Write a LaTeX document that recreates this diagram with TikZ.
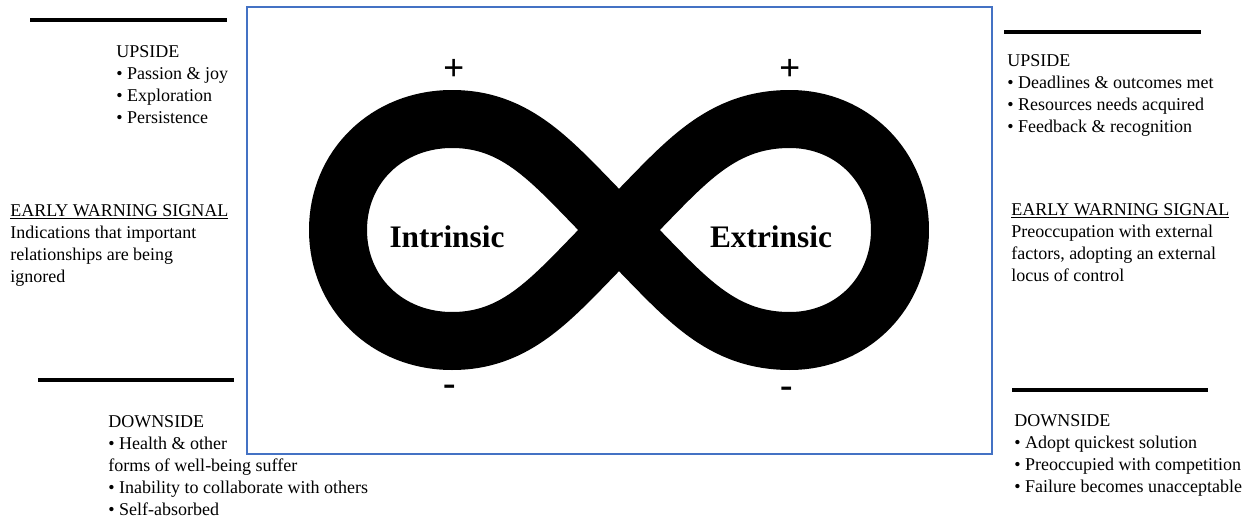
\documentclass[tikz,border=0pt]{standalone}
\usepackage{fontspec}
\setmainfont{Liberation Serif}
\definecolor{boxblue}{RGB}{68,114,196}
\begin{document}
\begin{tikzpicture}[x=0.75pt,y=-0.75pt,
  rule/.style={line width=3pt,black},
  txt/.style={anchor=north west,inner sep=0pt,align=left,font=\fontsize{13.5}{16.5}\selectfont},
  sign/.style={inner sep=0pt,font=\fontsize{28}{28}\selectfont\bfseries},
  lobe/.style={inner sep=0pt,font=\fontsize{23.5}{24}\selectfont\bfseries},
  band/.style={line width=43.5pt,black,line join=round}]
\useasboundingbox (0,0) rectangle (1258,521);
% frame
\node[draw=boxblue,line width=1.5pt,minimum width=745*0.75pt,minimum height=447*0.75pt,inner sep=0pt,anchor=north west] (frame) at (246,6) {};
% infinity centre line
\coordinate (C) at (619,230);
\coordinate (TR) at (790,119);
\coordinate (RR) at (900,230);
\coordinate (BR) at (790,341);
\coordinate (TL) at (452,119);
\coordinate (LL) at (338,230);
\coordinate (BL) at (452,341);
\draw[band] (C) .. controls (680,170) and (715,119) .. (TR)
  .. controls (852,119) and (900,167) .. (RR)
  .. controls (900,293) and (852,341) .. (BR)
  .. controls (715,341) and (680,290) .. (C)
  .. controls (558,170) and (523,119) .. (TL)
  .. controls (387,119) and (338,167) .. (LL)
  .. controls (338,293) and (387,341) .. (BL)
  .. controls (523,341) and (558,290) .. cycle;
\node[lobe] (intr) at (447,237) {Intrinsic};
\node[lobe] (extr) at (771,237) {Extrinsic};
\node[sign] (p1) at (454,70) {+};
\node[sign] (p2) at (790,70) {+};
\node[sign] (m1) at (450,390) {-};
\node[sign] (m2) at (787,392) {-};
% rules
\coordinate (r1a) at (30,20); \coordinate (r1b) at (227,20);
\coordinate (r2a) at (38,380); \coordinate (r2b) at (234,380);
\coordinate (r3a) at (1004,32); \coordinate (r3b) at (1201,32);
\coordinate (r4a) at (1012,390); \coordinate (r4b) at (1208,390);
\draw[rule] (r1a) -- (r1b);
\draw[rule] (r2a) -- (r2b);
\draw[rule] (r3a) -- (r3b);
\draw[rule] (r4a) -- (r4b);
% text blocks
\node[txt] (lup) at (116,41.6) {\strut UPSIDE\\ \textbullet\ Passion \& joy\\ \textbullet\ Exploration\\ \textbullet\ Persistence};
\node[txt] (lews) at (10,200.6) {\strut\underline{EARLY WARNING SIGNAL}\\ Indications that important\\ relationships are being\\ ignored};
\node[txt] (ldown) at (108,411.6) {\strut DOWNSIDE\\ \textbullet\ Health \& other\\ forms of well-being suffer\\ \textbullet\ Inability to collaborate with others\\ \textbullet\ Self-absorbed};
\node[txt] (rup) at (1007,50.6) {\strut UPSIDE\\ \textbullet\ Deadlines \& outcomes met\\ \textbullet\ Resources needs acquired\\ \textbullet\ Feedback \& recognition};
\node[txt] (rews) at (1011,199.6) {\strut\underline{EARLY WARNING SIGNAL}\\ Preoccupation with external\\ factors, adopting an external\\ locus of control};
\node[txt] (rdown) at (1014,410.6) {\strut DOWNSIDE\\ \textbullet\ Adopt quickest solution\\ \textbullet\ Preoccupied with competition\\ \textbullet\ Failure becomes unacceptable};
\end{tikzpicture}
\end{document}
